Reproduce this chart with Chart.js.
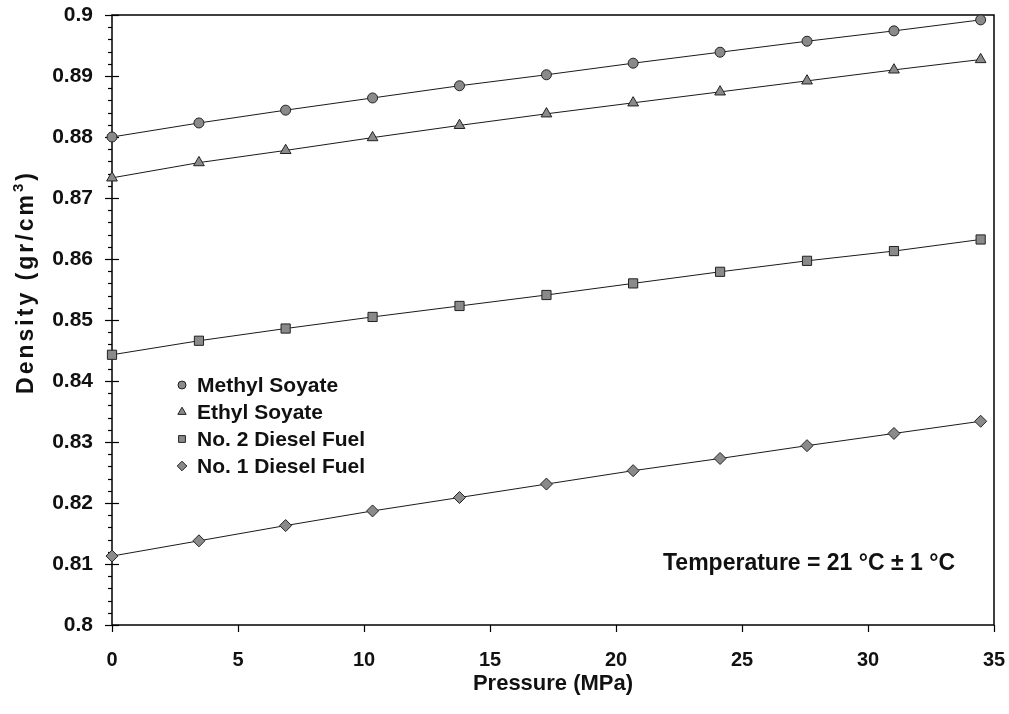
<!DOCTYPE html>
<html>
<head>
<meta charset="utf-8">
<script src="https://cdn.jsdelivr.net/npm/chart.js@4.4.1/dist/chart.umd.min.js"></script>
<style>
  html, body { margin: 0; padding: 0; background: #fff; }
  #wrap { width: 1009px; height: 714px; position: relative; }
</style>
</head>
<body>
<div id="wrap"><canvas id="c" width="1009" height="714"></canvas></div>
<script>
// ---- Data ----
const pressure = [0, 3.45, 6.89, 10.34, 13.79, 17.24, 20.68, 24.13, 27.58, 31.03, 34.47];
const methylSoyate = [0.8800, 0.8823, 0.8844, 0.8864, 0.8884, 0.8902, 0.8921, 0.8939, 0.8957, 0.8974, 0.8992];
const ethylSoyate  = [0.8733, 0.8758, 0.8778, 0.8799, 0.8819, 0.8838, 0.8856, 0.8874, 0.8892, 0.8910, 0.8927];
const no2Diesel    = [0.8443, 0.8466, 0.8486, 0.8505, 0.8523, 0.8541, 0.8560, 0.8579, 0.8597, 0.8613, 0.8632];
const no1Diesel    = [0.8113, 0.8138, 0.8163, 0.8187, 0.8209, 0.8231, 0.8253, 0.8273, 0.8294, 0.8314, 0.8334];
const seriesNames  = ['Methyl Soyate', 'Ethyl Soyate', 'No. 2 Diesel Fuel', 'No. 1 Diesel Fuel'];
const seriesStyles = ['circle', 'triangle', 'rect', 'rectRot'];
const xTickValues = [0, 5, 10, 15, 20, 25, 30, 35];
const yTickValues = [0.8, 0.81, 0.82, 0.83, 0.84, 0.85, 0.86, 0.87, 0.88, 0.89, 0.9];
const yMinorStep = 0.002;
const xTitle = 'Pressure (MPa)';
const yTitleMain = 'Density (gr/cm';
const yTitleSup = '3';
const yTitleEnd = ')';
const annotationText = 'Temperature = 21 \u00B0C \u00B1 1 \u00B0C';

const FONT = '"Liberation Sans", Arial, sans-serif';
const markerFill = '#8a8a8a';
const markerBorder = '#222';
const styleRadius = { circle: 5, triangle: 6.2, rect: 6.5, rectRot: 6 };

function toPts(ys) { return pressure.map((x, i) => ({ x: x, y: ys[i] })); }
const allSeries = [methylSoyate, ethylSoyate, no2Diesel, no1Diesel];

const datasets = allSeries.map((ys, i) => ({
  label: seriesNames[i],
  data: toPts(ys),
  showLine: true,
  borderColor: '#1a1a1a',
  borderWidth: 1,
  tension: 0,
  clip: false,
  pointStyle: seriesStyles[i],
  pointRadius: styleRadius[seriesStyles[i]],
  pointBackgroundColor: markerFill,
  pointBorderColor: markerBorder,
  pointBorderWidth: 1,
  fill: false
}));

const decorPlugin = {
  id: 'decor',
  beforeDatasetsDraw(chart) {
    const ctx = chart.ctx;
    const ca = chart.chartArea;
    const xs = chart.scales.x, ys = chart.scales.y;
    ctx.save();
    ctx.strokeStyle = '#000';
    ctx.lineWidth = 1.5;
    ctx.strokeRect(ca.left, ca.top, ca.right - ca.left, ca.bottom - ca.top);
    ctx.lineWidth = 1.2;
    const nMinor = Math.round((yTickValues[yTickValues.length - 1] - yTickValues[0]) / yMinorStep);
    for (let k = 0; k <= nMinor; k++) {
      const v = yTickValues[0] + k * yMinorStep;
      const py = Math.round(ys.getPixelForValue(v)) + 0.5;
      const major = (k % 5 === 0);
      ctx.beginPath();
      if (major) { ctx.moveTo(ca.left - 7, py); ctx.lineTo(ca.left + 7, py); }
      else { ctx.moveTo(ca.left - 4, py); ctx.lineTo(ca.left, py); }
      ctx.stroke();
    }
    xTickValues.forEach(v => {
      const px = Math.round(xs.getPixelForValue(v)) + 0.5;
      ctx.beginPath();
      ctx.moveTo(px, ca.bottom);
      ctx.lineTo(px, ca.bottom + 7);
      ctx.stroke();
    });
    ctx.restore();
  },
  afterDraw(chart) {
    const ctx = chart.ctx;
    ctx.save();
    // legend
    const lx = 182, ly0 = 385, dy = 27;
    chart.data.datasets.forEach((ds, i) => {
      const y = ly0 + i * dy;
      ctx.fillStyle = markerFill;
      ctx.strokeStyle = markerBorder;
      ctx.lineWidth = 1;
      Chart.helpers.drawPoint(ctx, { pointStyle: ds.pointStyle, radius: ds.pointStyle === 'circle' ? 4 : 4.8, rotation: 0, borderWidth: 1 }, lx, y);
      ctx.fillStyle = '#111';
      ctx.font = 'bold 21px ' + FONT;
      ctx.textBaseline = 'middle';
      ctx.textAlign = 'left';
      ctx.fillText(ds.label, lx + 15, y + 1);
    });
    // annotation
    ctx.font = 'bold 23px ' + FONT;
    ctx.fillText(annotationText, 663, 564);
    // y-axis title (rotated, with superscript)
    ctx.translate(27, 282);
    ctx.rotate(-Math.PI / 2);
    ctx.textBaseline = 'middle';
    ctx.textAlign = 'left';
    try { ctx.letterSpacing = '3px'; } catch (e) {}
    ctx.font = 'bold 23px ' + FONT;
    const w1 = ctx.measureText(yTitleMain).width;
    ctx.font = 'bold 15px ' + FONT;
    const w2 = ctx.measureText(yTitleSup).width;
    ctx.font = 'bold 23px ' + FONT;
    const w3 = ctx.measureText(yTitleEnd).width;
    const total = w1 + w2 + w3;
    let x0 = -total / 2;
    ctx.fillText(yTitleMain, x0, 0);
    ctx.font = 'bold 15px ' + FONT;
    ctx.fillText(yTitleSup, x0 + w1, -8);
    ctx.font = 'bold 23px ' + FONT;
    ctx.fillText(yTitleEnd, x0 + w1 + w2, 0);
    ctx.restore();
  }
};

const hiddenGrid = (len) => ({ display: true, drawOnChartArea: false, drawTicks: true, tickLength: len, color: 'rgba(0,0,0,0)', lineWidth: 0 });

new Chart(document.getElementById('c'), {
  type: 'scatter',
  data: { datasets: datasets },
  options: {
    responsive: false,
    animation: false,
    layout: { padding: { left: 0, right: 15, top: 15, bottom: 0 } },
    plugins: { legend: { display: false }, tooltip: { enabled: false } },
    scales: {
      x: {
        type: 'linear',
        min: 0, max: 35,
        afterBuildTicks: s => { s.ticks = xTickValues.map(v => ({ value: v })); },
        afterFit: s => { s.height = 89; },
        grid: hiddenGrid(23),
        border: { display: false },
        ticks: { color: '#111', font: { family: FONT, size: 20, weight: 'bold' }, padding: 0, maxRotation: 0 },
        title: { display: true, text: xTitle, color: '#111', font: { family: FONT, size: 22, weight: 'bold' }, padding: { top: 0, bottom: 17 } }
      },
      y: {
        type: 'linear',
        min: 0.8, max: 0.9,
        afterBuildTicks: s => { s.ticks = yTickValues.map(v => ({ value: v })); },
        afterFit: s => { s.width = 112; },
        grid: hiddenGrid(19),
        border: { display: false },
        ticks: { color: '#111', font: { family: FONT, size: 21, weight: 'bold' }, padding: 0,
                 callback: v => String(Math.round(v * 100) / 100) },
        title: { display: false }
      }
    }
  },
  plugins: [decorPlugin]
});
</script>
</body>
</html>
